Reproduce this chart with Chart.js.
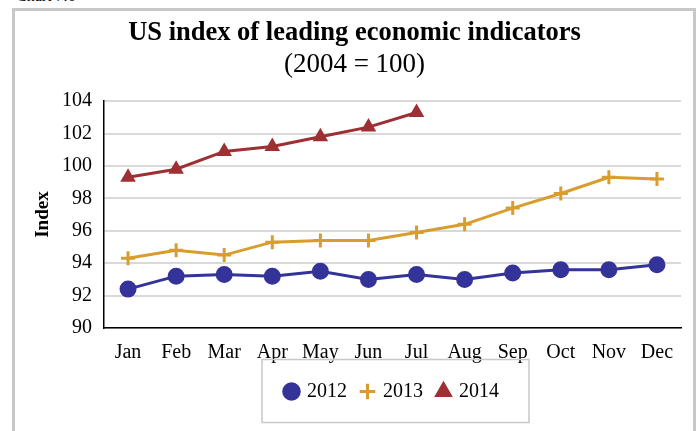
<!DOCTYPE html>
<html>
<head>
<meta charset="utf-8">
<script src="https://cdn.jsdelivr.net/npm/chart.js@4"></script>
<style>
  html, body { margin: 0; padding: 0; background: #fff; overflow: hidden; }
  body { width: 697px; height: 431px; position: relative; }
  #frame { position: absolute; left: 12px; top: 8px; width: 678px; height: 440px; border: 3px solid #c8c8c8; }
  #caption { position: absolute; left: 16px; top: -13px; font: 16px "Liberation Serif", serif; color: #000; }
  #wrap { position: absolute; left: 14px; top: 0; width: 677px; height: 431px; }
</style>
</head>
<body>
<div id="caption">Chart 7.6</div>
<div id="frame"></div>
<div id="wrap"><canvas id="chart"></canvas></div>
<script>
const months = ['Jan', 'Feb', 'Mar', 'Apr', 'May', 'Jun', 'Jul', 'Aug', 'Sep', 'Oct', 'Nov', 'Dec'];
const idx2012 = [92.4, 93.2, 93.3, 93.2, 93.5, 93.0, 93.3, 93.0, 93.4, 93.6, 93.6, 93.9];
const idx2013 = [94.3, 94.8, 94.5, 95.3, 95.4, 95.4, 95.9, 96.4, 97.4, 98.3, 99.3, 99.2];
const idx2014 = [99.3, 99.8, 100.9, 101.2, 101.8, 102.4, 103.3, null, null, null, null, null];
const yTicks = [90, 92, 94, 96, 98, 100, 102, 104];

const serif = '"Liberation Serif", "Times New Roman", serif';

// box round the legend, like the original
const legendBox = {
  id: 'legendBox',
  afterDraw(chart) {
    const lg = chart.legend;
    if (!lg || !lg.legendHitBoxes.length) return;
    const hb = lg.legendHitBoxes;
    const l = Math.min(...hb.map(h => h.left)) - 24;
    const r = Math.max(...hb.map(h => h.left + h.width)) + 30;
    const mid = hb[0].top + hb[0].height / 2;
    const ctx = chart.ctx;
    ctx.save();
    ctx.strokeStyle = '#c8c8c8';
    ctx.lineWidth = 1.5;
    ctx.strokeRect(l, mid - 32, r - l, 63);
    ctx.restore();
  }
};

new Chart(document.getElementById('chart'), {
  type: 'line',
  data: {
    labels: months,
    datasets: [
      {
        label: '2012', data: idx2012,
        borderColor: '#333399', backgroundColor: '#333399',
        borderWidth: 3, pointStyle: 'circle', pointRadius: 7, pointHoverRadius: 7
      },
      {
        label: '2013', data: idx2013,
        borderColor: '#d99d2e', backgroundColor: '#d99d2e',
        borderWidth: 3, pointStyle: 'cross', pointRadius: 7, pointBorderWidth: 3
      },
      {
        label: '2014', data: idx2014,
        borderColor: '#9e2f32', backgroundColor: '#9e2f32',
        borderWidth: 3, pointStyle: 'triangle', pointRadius: 6
      }
    ]
  },
  options: {
    responsive: true,
    maintainAspectRatio: false,
    animation: false,
    layout: { padding: { left: 14, right: 10, top: 0, bottom: 19.5 } },
    plugins: {
      title: {
        display: true,
        text: 'US index of leading economic indicators',
        color: '#000',
        font: { family: serif, size: 26.5, weight: 'bold', lineHeight: 1.2 },
        padding: { top: 17, bottom: 0 }
      },
      subtitle: {
        display: true,
        text: '(2004 = 100)',
        color: '#000',
        font: { family: serif, size: 27, lineHeight: 1.2 },
        padding: { top: 0, bottom: 20 }
      },
      legend: {
        position: 'bottom',
        fullSize: false,
        labels: {
          usePointStyle: true,
          color: '#000',
          font: { family: serif, size: 20 },
          boxWidth: 11,
          boxHeight: 11,
          padding: 15
        }
      },
      tooltip: { enabled: false }
    },
    scales: {
      x: {
        offset: true,
        afterFit(scale) { scale.height = 38.5; },
        grid: { display: false, drawTicks: false, offset: true },
        border: { display: true, color: '#000', width: 1.5 },
        ticks: { color: '#000', font: { family: serif, size: 20 }, padding: 13, maxRotation: 0, autoSkip: false }
      },
      y: {
        min: 90, max: 104,
        afterBuildTicks(scale) { scale.ticks = yTicks.map(v => ({ value: v })); },
        afterFit(scale) { scale.width = 76; },
        grid: { color: '#d9d9d9', lineWidth: 2, drawTicks: false },
        border: { display: true, color: '#000', width: 1.5 },
        ticks: { color: '#000', font: { family: serif, size: 20 }, padding: 12 },
        title: {
          display: true, text: 'Index', color: '#000',
          font: { family: serif, size: 19, weight: 'bold' },
          padding: { top: 4, bottom: 4 }
        }
      }
    }
  },
  plugins: [legendBox]
});
</script>
</body>
</html>
